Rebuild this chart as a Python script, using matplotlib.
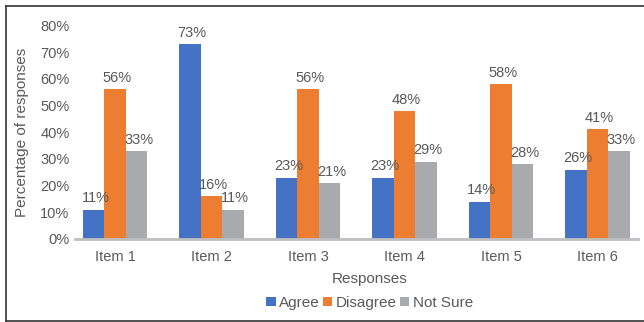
import matplotlib
matplotlib.use("Agg")
import matplotlib.pyplot as plt
from matplotlib.lines import Line2D
from matplotlib.patches import Patch
import numpy as np

categories = ["Item 1", "Item 2", "Item 3", "Item 4", "Item 5", "Item 6"]
agree = [11, 73, 23, 23, 14, 26]
disagree = [56, 16, 56, 48, 58, 41]
not_sure = [33, 11, 21, 29, 28, 33]
series_names = ["Agree", "Disagree", "Not Sure"]
yticks = [0, 10, 20, 30, 40, 50, 60, 70, 80]

colors = ["#4472C4", "#ED7D31", "#A9AAAD"]
txt = "#595959"
plt.rcParams["font.family"] = ["Liberation Sans", "DejaVu Sans"]

W, H = 644, 322
fig = plt.figure(figsize=(W / 100, H / 100), dpi=100)
left, right, bottom, top = 75, 638, 239, 25.3
ax = fig.add_axes([left / W, 1 - bottom / H, (right - left) / W, (bottom - top) / H])

x = np.arange(len(categories))
bw = 0.223
for i, (vals, c) in enumerate(zip([agree, disagree, not_sure], colors)):
    xs = x + (i - 1) * bw
    bars = ax.bar(xs, vals, width=bw, color=c, zorder=2)
    for xi, v in zip(xs, vals):
        ax.annotate(f"{v}%", (xi, v), xytext=(1.5, 3), textcoords="offset points",
                    ha="center", va="bottom", fontsize=10.5, color=txt)

# x range so categories land at pixel positions
px0, pitch = 115, 96.5
ax.set_xlim((left - px0) / pitch, (right - px0) / pitch)
ax.set_ylim(0, 80)
ax.set_yticks(yticks)
ax.set_yticklabels([f"{t}%" for t in yticks])
ax.set_xticks(x)
ax.set_xticklabels(categories)
ax.tick_params(axis="both", length=0, labelsize=10.5, labelcolor=txt)
ax.tick_params(axis="y", pad=4)
ax.tick_params(axis="x", pad=8)
for s in ["top", "right", "left"]:
    ax.spines[s].set_visible(False)
ax.spines["bottom"].set_color("#BFBFBF")
ax.spines["bottom"].set_linewidth(2)
ax.spines["bottom"].set_zorder(3)

fig.text(22.5 / W, 1 - 132 / H, "Percentage of responses", rotation=90,
         ha="center", va="center", fontsize=11, color=txt)
fig.text(370 / W, 1 - 279 / H, "Responses", ha="center", va="center",
         fontsize=11, color=txt)

handles = [Patch(facecolor=c, edgecolor="none") for c in colors]
leg = fig.legend(handles, series_names, loc="center", bbox_to_anchor=(370 / W, 1 - 303 / H),
                 ncol=3, frameon=False, handlelength=0.6, handleheight=0.6,
                 handletextpad=0.25, columnspacing=0.2, fontsize=11)
for t in leg.get_texts():
    t.set_color(txt)

# figure border (left, top, bottom)
lw = 1.2
fig.add_artist(Line2D([6 / W, 6 / W], [1 - 5.5 / H, 1 - 321 / H], color="#333333", lw=lw, transform=fig.transFigure))
fig.add_artist(Line2D([6 / W, 1], [1 - 5.5 / H, 1 - 5.5 / H], color="#333333", lw=lw, transform=fig.transFigure))
fig.add_artist(Line2D([6 / W, 1], [1 - 321 / H, 1 - 321 / H], color="#333333", lw=lw, transform=fig.transFigure))

fig.savefig("out.png", dpi=100)
